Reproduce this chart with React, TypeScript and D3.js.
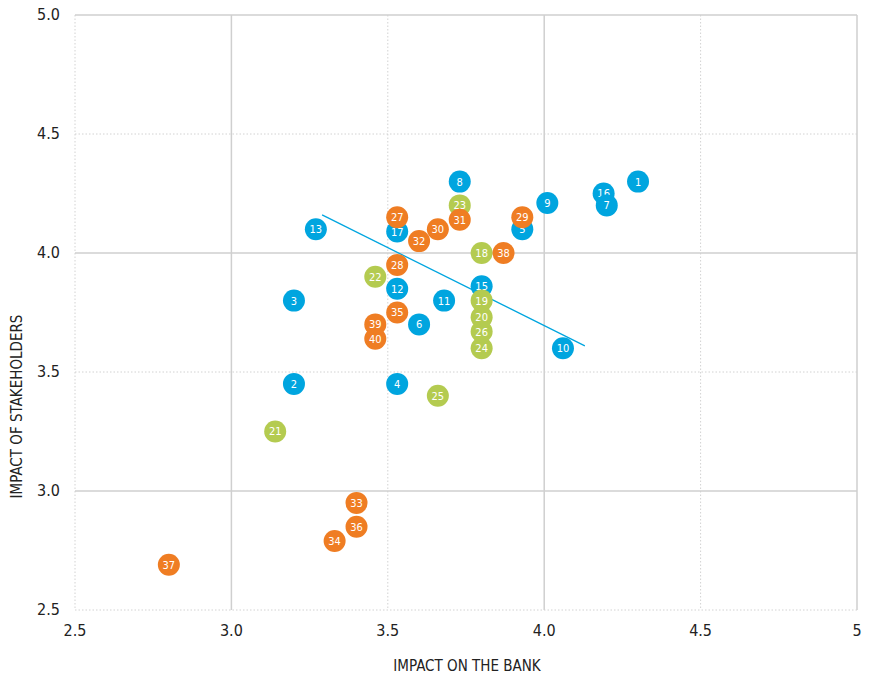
import { useEffect, useRef } from "react"
import * as d3 from "d3"

// Point numbers and coordinates per series
const blueIds = [17, 16, 15, 13, 12, 11, 10, 9, 8, 7, 6, 5, 4, 3, 2, 1]
const blueX = [3.53, 4.19, 3.8, 3.27, 3.53, 3.68, 4.06, 4.01, 3.73, 4.2, 3.6, 3.93, 3.53, 3.2, 3.2, 4.3]
const blueY = [4.09, 4.25, 3.86, 4.1, 3.85, 3.8, 3.6, 4.21, 4.3, 4.2, 3.7, 4.1, 3.45, 3.8, 3.45, 4.3]

const greenIds = [18, 19, 20, 21, 22, 23, 24, 25, 26]
const greenX = [3.8, 3.8, 3.8, 3.14, 3.46, 3.73, 3.8, 3.66, 3.8]
const greenY = [4.0, 3.8, 3.73, 3.25, 3.9, 4.2, 3.6, 3.4, 3.67]

const orangeIds = [27, 28, 29, 30, 31, 32, 33, 34, 35, 36, 37, 38, 39, 40]
const orangeX = [3.53, 3.53, 3.93, 3.66, 3.73, 3.6, 3.4, 3.33, 3.53, 3.4, 2.8, 3.87, 3.46, 3.46]
const orangeY = [4.15, 3.95, 4.15, 4.1, 4.14, 4.05, 2.95, 2.79, 3.75, 2.85, 2.69, 4.0, 3.7, 3.64]

const trendX = [3.29, 4.13]
const trendY = [4.16, 3.61]

const xTicks = [2.5, 3.0, 3.5, 4.0, 4.5, 5]
const xTickLabels = ["2.5", "3.0", "3.5", "4.0", "4.5", "5"]
const yTicks = [2.5, 3.0, 3.5, 4.0, 4.5, 5.0]
const yTickLabels = ["2.5", "3.0", "3.5", "4.0", "4.5", "5.0"]

const xTitle = "IMPACT ON THE BANK"
const yTitle = "IMPACT OF STAKEHOLDERS"

const BLUE = "#00a5df"
const GREEN = "#b4cb50"
const ORANGE = "#ef7d23"

export default function App() {
  const svgRef = useRef<SVGSVGElement>(null)

  useEffect(() => {
    if (!svgRef.current) return
    const width = 870
    const height = 678
    const margin = { top: 15, right: 13, bottom: 68, left: 75 }
    const innerWidth = width - margin.left - margin.right
    const innerHeight = height - margin.top - margin.bottom
    const font = "'DejaVu Sans Condensed', 'DejaVu Sans', sans-serif"

    const root = d3.select(svgRef.current)
    root.selectAll("*").remove()
    root.attr("width", width).attr("height", height)

    const svg = root.append("g").attr("transform", `translate(${margin.left},${margin.top})`)

    const x = d3.scaleLinear().domain([2.5, 5]).range([0, innerWidth])
    const y = d3.scaleLinear().domain([2.5, 5]).range([innerHeight, 0])

    // Grid: solid at whole numbers, dotted at halves
    const isWhole = (v: number) => Math.abs(v - Math.round(v)) < 1e-6

    svg
      .selectAll("line.vgrid")
      .data(xTicks)
      .enter()
      .append("line")
      .attr("x1", (d) => x(d))
      .attr("x2", (d) => x(d))
      .attr("y1", 0)
      .attr("y2", innerHeight)
      .attr("stroke", (d) => (isWhole(d) ? "#cfcfcf" : "#d2d2d2"))
      .attr("stroke-width", (d) => (isWhole(d) ? 1.5 : 1))
      .attr("stroke-dasharray", (d) => (isWhole(d) ? null : "1.5,2"))

    svg
      .selectAll("line.hgrid")
      .data(yTicks)
      .enter()
      .append("line")
      .attr("x1", 0)
      .attr("x2", innerWidth)
      .attr("y1", (d) => y(d))
      .attr("y2", (d) => y(d))
      .attr("stroke", (d) => (isWhole(d) ? "#cfcfcf" : "#d2d2d2"))
      .attr("stroke-width", (d) => (isWhole(d) ? 1.5 : 1))
      .attr("stroke-dasharray", (d) => (isWhole(d) ? null : "1.5,2"))

    // Tick labels
    svg
      .selectAll("text.xtick")
      .data(xTicks)
      .enter()
      .append("text")
      .attr("x", (d) => x(d))
      .attr("y", innerHeight + 26)
      .attr("text-anchor", "middle")
      .attr("font-family", font)
      .attr("font-size", 16)
      .attr("fill", "#222")
      .text((_, i) => xTickLabels[i])

    svg
      .selectAll("text.ytick")
      .data(yTicks)
      .enter()
      .append("text")
      .attr("x", -15)
      .attr("y", (d) => y(d) + 5)
      .attr("text-anchor", "end")
      .attr("font-family", font)
      .attr("font-size", 16)
      .attr("fill", "#222")
      .text((_, i) => yTickLabels[i])

    // Axis titles
    svg
      .append("text")
      .attr("x", innerWidth / 2 + 1)
      .attr("y", innerHeight + 61)
      .attr("text-anchor", "middle")
      .attr("font-family", font)
      .attr("font-size", 15)
      .attr("fill", "#222")
      .text(xTitle)

    svg
      .append("text")
      .attr("transform", `translate(-53,${innerHeight / 2 + 94}) rotate(-90)`)
      .attr("text-anchor", "middle")
      .attr("font-family", font)
      .attr("font-size", 15)
      .attr("fill", "#222")
      .text(yTitle)

    // Trend line
    const line = d3
      .line<number>()
      .x((d) => x(d))
      .y((_, i) => y(trendY[i]))
    svg
      .append("path")
      .datum(trendX)
      .attr("fill", "none")
      .attr("stroke", BLUE)
      .attr("stroke-width", 1.3)
      .attr("d", line)

    // Points
    const series = [
      { ids: blueIds, xs: blueX, ys: blueY, color: BLUE },
      { ids: greenIds, xs: greenX, ys: greenY, color: GREEN },
      { ids: orangeIds, xs: orangeX, ys: orangeY, color: ORANGE },
    ]

    series.forEach((s) => {
      const g = svg
        .append("g")
        .selectAll("g")
        .data(s.ids)
        .enter()
        .append("g")
        .attr("transform", (_, i) => `translate(${x(s.xs[i])},${y(s.ys[i])})`)

      g.append("circle").attr("r", 11).attr("fill", s.color)

      g.append("text")
        .attr("text-anchor", "middle")
        .attr("dy", "0.36em")
        .attr("font-family", font)
        .attr("font-size", 11)
        .attr("fill", "#fff")
        .text((d) => d)
    })
  }, [])

  return <svg ref={svgRef} style={{ position: "absolute", left: 0, top: 0 }} />
}
